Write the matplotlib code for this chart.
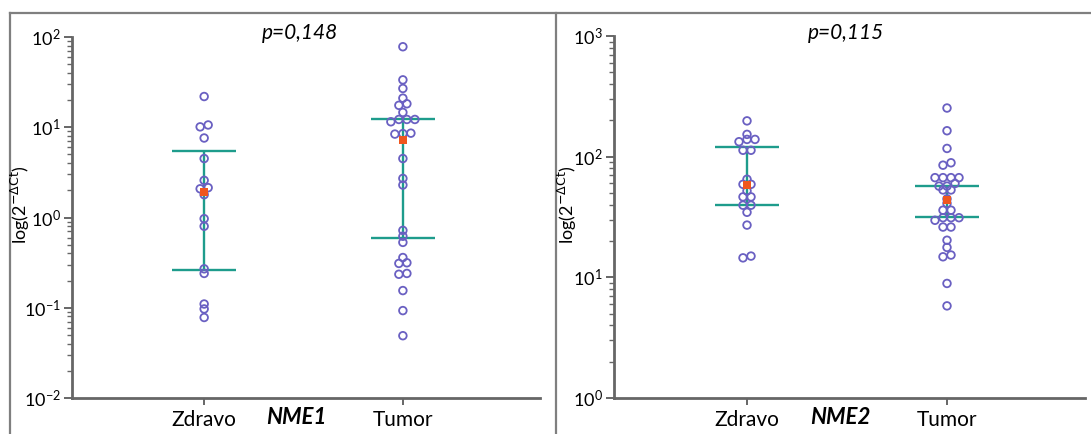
import numpy as np
import matplotlib.pyplot as plt
from matplotlib.lines import Line2D
from matplotlib.ticker import LogLocator

plt.rcParams['font.family'] = ['Lato', 'DejaVu Sans']

groups = ['Zdravo', 'Tumor']

# NME1 values (2^-dCt)
nme1_zdravo = [21.9, 10.6, 10.1, 7.6, 4.5, 2.58, 2.14, 2.08, 1.79, 0.97, 0.80,
               0.27, 0.24, 0.11, 0.097, 0.078]
nme1_tumor = [78, 33.5, 26.9, 21, 18.2, 17.5, 14.6, 12.2, 12.2, 12.2, 11.5,
              8.6, 8.5, 8.4, 4.5, 2.71, 2.29, 0.72, 0.62, 0.53, 0.36, 0.315,
              0.31, 0.24, 0.235, 0.155, 0.093, 0.049]
nme1_center = [1.91, 7.3]
nme1_upper = [5.45, 12.2]
nme1_lower = [0.26, 0.59]

# NME2 values
nme2_zdravo = [198, 153, 139, 139, 133, 113, 113, 65, 59, 59, 52, 46.4, 46.4,
               39.6, 39.6, 34.6, 27.1, 15.0, 14.5]
nme2_tumor = [253, 164, 117, 89, 85, 67, 67, 67, 67, 60, 57, 57, 53, 53, 44.7,
              41, 36, 36, 31.2, 31.2, 31.2, 29.7, 26.1, 26.1, 20.3, 17.7, 15.3,
              14.8, 8.9, 5.8]
nme2_center = [58.5, 44]
nme2_upper = [120, 57.6]
nme2_lower = [39.6, 31.8]

p_labels = ['p=0,148', 'p=0,115']
genes = ['NME1', 'NME2']

W, H = 1091, 434
dot_col = '#6A60C2'
line_col = '#1E9C8C'
mean_col = '#F0561E'
axis_col = '#666666'


def swarm_x(ax, vals, x0, step_px=8, tol_px=4.5):
    vals = np.asarray(vals, dtype=float)
    pts = ax.transData.transform(np.column_stack([np.full(len(vals), x0), vals]))
    ypx = pts[:, 1]
    px_per_unit = ax.transData.transform((1, 1))[0] - ax.transData.transform((0, 1))[0]
    order = np.argsort(-ypx)
    xs = np.full(len(vals), float(x0))
    rows = []
    for i in order:
        if rows and abs(ypx[rows[-1][0]] - ypx[i]) <= tol_px:
            rows[-1].append(i)
        else:
            rows.append([i])
    for row in rows:
        row = sorted(row, key=lambda k: vals[k])
        n = len(row)
        for j, k in enumerate(row):
            xs[k] = x0 + (j - (n - 1) / 2) * step_px / px_per_unit
    return xs


fig = plt.figure(figsize=(W / 100, H / 100), dpi=100)

panels = [
    dict(rect=(72, 37, 540, 398), ylim=(1e-2, 1e2), data=[nme1_zdravo, nme1_tumor],
         c=nme1_center, up=nme1_upper, lo=nme1_lower, p=p_labels[0], px=300,
         gene=genes[0], gx=296, lx=20, ly=205),
    dict(rect=(614, 36, 1085, 398), ylim=(1, 1e3), data=[nme2_zdravo, nme2_tumor],
         c=nme2_center, up=nme2_upper, lo=nme2_lower, p=p_labels[1], px=846,
         gene=genes[1], gx=840, lx=567, ly=205),
]

for pan in panels:
    x0, y0, x1, y1 = pan['rect']
    ax = fig.add_axes([x0 / W, 1 - y1 / H, (x1 - x0) / W, (y1 - y0) / H])
    ax.set_yscale('log')
    ax.set_ylim(*pan['ylim'])
    ax.set_xlim(0.335, 2.69)
    ax.set_xticks([1, 2])
    ax.set_xticklabels(groups, fontsize=15)
    ax.yaxis.set_major_locator(LogLocator(base=10, numticks=10))
    ax.yaxis.set_minor_locator(LogLocator(base=10, subs=np.arange(2, 10), numticks=10))
    for s in ['top', 'right']:
        ax.spines[s].set_visible(False)
    for s in ['left', 'bottom']:
        ax.spines[s].set_color(axis_col)
        ax.spines[s].set_linewidth(2)
    ax.tick_params(axis='y', which='major', length=6, width=1.4, color=axis_col,
                   labelsize=13, pad=2)
    ax.tick_params(axis='y', which='minor', length=3.5, width=1.0, color=axis_col)
    ax.tick_params(axis='x', length=5, width=1.4, color=axis_col, pad=4)
    ax.patch.set_visible(False)

    for gi, vals in enumerate(pan['data']):
        pos = gi + 1
        ax.vlines(pos, pan['lo'][gi], pan['up'][gi], color=line_col, lw=1.7, zorder=2)
        ax.hlines([pan['lo'][gi], pan['up'][gi]], pos - 0.16, pos + 0.16,
                  color=line_col, lw=1.7, zorder=2)
        xs = swarm_x(ax, vals, pos)
        ax.scatter(xs, vals, s=30, facecolors='none', edgecolors=dot_col,
                   linewidths=1.3, zorder=3)
        ax.scatter([pos], [pan['c'][gi]], marker='s', s=36, color=mean_col,
                   zorder=4, linewidths=0)

    fig.text(pan['px'] / W, 1 - 33 / H, pan['p'], fontsize=15, style='italic',
             ha='center', va='center')
    fig.text(pan['gx'] / W, 1 - 418 / H, pan['gene'], fontsize=16, style='italic',
             weight='bold', ha='center', va='center')
    fig.text(pan['lx'] / W, 1 - pan['ly'] / H, r'log(2$^{-\Delta\mathrm{Ct}}$)',
             fontsize=13, rotation=90, ha='center', va='center')

# panel frame lines
frame = dict(color='#7F7F7F', lw=1.6, transform=fig.transFigure)
fig.add_artist(Line2D([10 / W, 1], [1 - 13 / H, 1 - 13 / H], **frame))
fig.add_artist(Line2D([10 / W, 10 / W], [0, 1 - 13 / H], **frame))
fig.add_artist(Line2D([556 / W, 556 / W], [0, 1 - 13 / H], **frame))

fig.savefig('out.png', dpi=100)
